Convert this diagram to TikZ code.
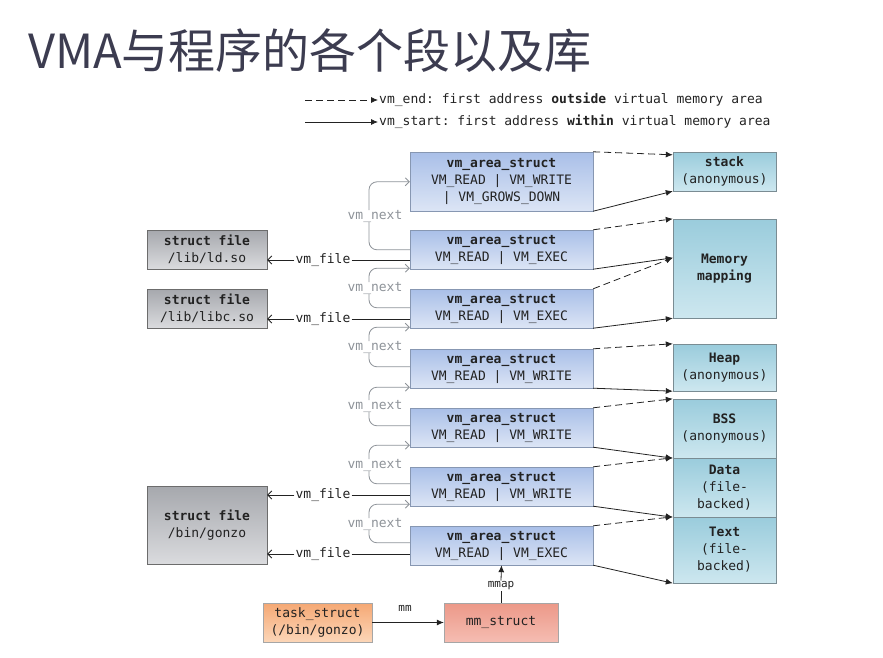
\documentclass[tikz,border=0pt]{standalone}
\usepackage{fontspec}
\setmonofont{DejaVu Sans Mono}
\newfontfamily\cjk{Noto Sans CJK SC}
\usetikzlibrary{arrows.meta,calc}
\definecolor{titlec}{HTML}{3C3C50}
\definecolor{vmA}{HTML}{A9BFE8}
\definecolor{vmB}{HTML}{DCE5F5}
\definecolor{vmD}{HTML}{8797B2}
\definecolor{rgA}{HTML}{9ACCDC}
\definecolor{rgB}{HTML}{CDE7EF}
\definecolor{rgD}{HTML}{7A8C93}
\definecolor{sfA}{HTML}{A6A8AD}
\definecolor{sfB}{HTML}{DADBDE}
\definecolor{tsA}{HTML}{F5A874}
\definecolor{tsB}{HTML}{FCD6B8}
\definecolor{mmA}{HTML}{EC9888}
\definecolor{mmB}{HTML}{F5BDB2}
\definecolor{nextc}{HTML}{8E9399}
\definecolor{ink}{HTML}{222222}
\tikzset{
  txt/.style={font=\ttfamily\fontsize{13}{17}\selectfont,text=ink},
  vmbox/.style={txt,draw=vmD,top color=vmA,bottom color=vmB,minimum width=183pt,minimum height=39pt,inner sep=0pt,align=center},
  rgbox/.style={txt,draw=rgD,top color=rgA,bottom color=rgB,minimum width=103pt,inner sep=0pt,align=center},
  sfbox/.style={txt,draw=gray!85!black,top color=sfA,bottom color=sfB,minimum width=120pt,minimum height=39pt,inner sep=0pt,align=center},
  lbl/.style={txt,inner sep=1pt},
  nextlbl/.style={txt,text=nextc,fill=white,inner sep=1pt},
  endarr/.style={draw=ink,line width=0.8pt,dash pattern=on 7pt off 4pt,-{Latex[length=7pt,width=6pt]}},
  startarr/.style={draw=ink,line width=0.8pt,-{Latex[length=7pt,width=6pt]}},
  filearr/.style={draw=ink,line width=0.8pt,-{Straight Barb[length=4pt,width=8pt]}},
  nextarr/.style={draw=nextc,line width=0.8pt,rounded corners=8pt,-{Straight Barb[length=4pt,width=8pt]}},
}
\begin{document}
\begin{tikzpicture}[x=1pt,y=-1pt]
\useasboundingbox (0,0) rectangle (883,658);
% title
\node[anchor=base west,inner sep=0pt,text=titlec,font=\cjk\fontsize{47}{50}\selectfont] (title) at (28,69) {VMA与程序的各个段以及库};
% legend
\node[lbl,anchor=west] (leg1) at (378,100) {vm\_end: first address \textbf{outside} virtual memory area};
\node[lbl,anchor=west] (leg2) at (378,122) {vm\_start: first address \textbf{within} virtual memory area};
\coordinate (l1s) at (305,100);
\coordinate (l2s) at (305,122);
\draw[endarr] (l1s) -- (leg1.west);
\draw[startarr] (l2s) -- (leg2.west);
% vm_area_struct boxes
\node[vmbox,minimum height=59pt] (v1) at (501.5,181.5) {\textbf{vm\_area\_struct}\\VM\_READ | VM\_WRITE\\| VM\_GROWS\_DOWN};
\node[vmbox] (v2) at (501.5,249.5) {\textbf{vm\_area\_struct}\\VM\_READ | VM\_EXEC};
\node[vmbox] (v3) at (501.5,308.5) {\textbf{vm\_area\_struct}\\VM\_READ | VM\_EXEC};
\node[vmbox] (v4) at (501.5,368.5) {\textbf{vm\_area\_struct}\\VM\_READ | VM\_WRITE};
\node[vmbox] (v5) at (501.5,427.5) {\textbf{vm\_area\_struct}\\VM\_READ | VM\_WRITE};
\node[vmbox] (v6) at (501.5,486.5) {\textbf{vm\_area\_struct}\\VM\_READ | VM\_WRITE};
\node[vmbox] (v7) at (501.5,545.5) {\textbf{vm\_area\_struct}\\VM\_READ | VM\_EXEC};
% region boxes
\node[rgbox,minimum height=39pt] (stack) at (724.5,171.5) {\textbf{stack}\\(anonymous)};
\node[rgbox,minimum height=99pt] (mem) at (724.5,268.5) {\textbf{Memory}\\\textbf{mapping}};
\node[rgbox,minimum height=47pt] (heap) at (724.5,367.5) {\textbf{Heap}\\(anonymous)};
\node[rgbox,minimum height=59pt] (bss) at (724.5,428.5) {\textbf{BSS}\\(anonymous)};
\node[rgbox,minimum height=59pt] (data) at (724.5,487.5) {\textbf{Data}\\(file-\\backed)};
\node[rgbox,minimum height=66pt] (text) at (724.5,550) {\textbf{Text}\\(file-\\backed)};
% struct file boxes
\node[sfbox] (sf1) at (207,249.5) {\textbf{struct file}\\/lib/ld.so};
\node[sfbox] (sf2) at (207,308.5) {\textbf{struct file}\\/lib/libc.so};
\node[sfbox,minimum height=78pt] (sf3) at (207,525) {\textbf{struct file}\\/bin/gonzo};
% task / mm
\node[txt,draw=gray!70,top color=tsA,bottom color=tsB,minimum width=109pt,minimum height=39pt,inner sep=0pt,align=center] (task) at (317.5,622.5) {task\_struct\\(/bin/gonzo)};
\node[txt,draw=gray!70,top color=mmA,bottom color=mmB,minimum width=114pt,minimum height=39pt,inner sep=0pt,align=center] (mm) at (501,622.5) {mm\_struct};
% start / end arrows
\draw[endarr] (v1.north east) -- ($(stack.north west)+(0,3)$);
\draw[startarr] (v1.south east) -- (stack.south west);
\draw[endarr] (v2.north east) -- (mem.north west);
\draw[startarr] (v2.south east) -- ($(mem.north west)+(0,39)$);
\draw[endarr] (v3.north east) -- ($(mem.north west)+(0,39)$);
\draw[startarr] (v3.south east) -- (mem.south west);
\draw[endarr] (v4.north east) -- (heap.north west);
\draw[startarr] (v4.south east) -- (heap.south west);
\draw[endarr] (v5.north east) -- (bss.north west);
\draw[startarr] (v5.south east) -- (bss.south west);
\draw[endarr] (v6.north east) -- (data.north west);
\draw[startarr] (v6.south east) -- (data.south west);
\draw[endarr] (v7.north east) -- (text.north west);
\draw[startarr] (v7.south east) -- (text.south west);
% vm_next links
\node[nextlbl] (n1) at (375,216) {vm\_next};
\node[nextlbl] (n2) at (375,288) {vm\_next};
\node[nextlbl] (n3) at (375,347) {vm\_next};
\node[nextlbl] (n4) at (375,406) {vm\_next};
\node[nextlbl] (n5) at (375,465) {vm\_next};
\node[nextlbl] (n6) at (375,524) {vm\_next};
\draw[nextarr] ($(v2.north west)+(0,20)$) -| (369,222) (369,210) |- ($(v1.north west)+(0,30)$);
\draw[nextarr] ($(v3.north west)+(0,19)$) -| (369,294) (369,282) |- ($(v2.south west)+(0,-1)$);
\draw[nextarr] ($(v4.north west)+(0,18)$) -| (369,353) (369,341) |- ($(v3.south west)+(0,-1)$);
\draw[nextarr] ($(v5.north west)+(0,18)$) -| (369,412) (369,400) |- ($(v4.south west)+(0,-1)$);
\draw[nextarr] ($(v6.north west)+(0,17)$) -| (369,471) (369,459) |- ($(v5.south west)+(0,-2)$);
\draw[nextarr] ($(v7.north west)+(0,17)$) -| (369,530) (369,518) |- ($(v6.south west)+(0,-2)$);
% vm_file links
\node[lbl] (f1) at (323,260) {vm\_file};
\node[lbl] (f2) at (323,319) {vm\_file};
\node[lbl] (f3) at (323,495) {vm\_file};
\node[lbl] (f4) at (323,554) {vm\_file};
\draw[ink,line width=0.8pt] (f1.east) -- (f1.east -| v2.west);
\draw[filearr] (f1.west) -- (f1.west -| sf1.east);
\draw[ink,line width=0.8pt] (f2.east) -- (f2.east -| v3.west);
\draw[filearr] (f2.west) -- (f2.west -| sf2.east);
\draw[ink,line width=0.8pt] (f3.east) -- (f3.east -| v6.west);
\draw[filearr] (f3.west) -- (f3.west -| sf3.east);
\draw[ink,line width=0.8pt] (f4.east) -- (f4.east -| v7.west);
\draw[filearr] (f4.west) -- (f4.west -| sf3.east);
% mm / mmap
\node[lbl,font=\ttfamily\fontsize{11}{13}\selectfont] (mml) at (405,608) {mm};
\draw[startarr] (task.east) -- (mm.west);
\node[lbl,font=\ttfamily\fontsize{11}{13}\selectfont] (mmapl) at (501,586) {mmap};
\draw[ink,line width=0.8pt] (mm.north) -- (mmapl.south);
\draw[startarr] (mmapl.north) -- (v7.south);
\end{tikzpicture}
\end{document}
